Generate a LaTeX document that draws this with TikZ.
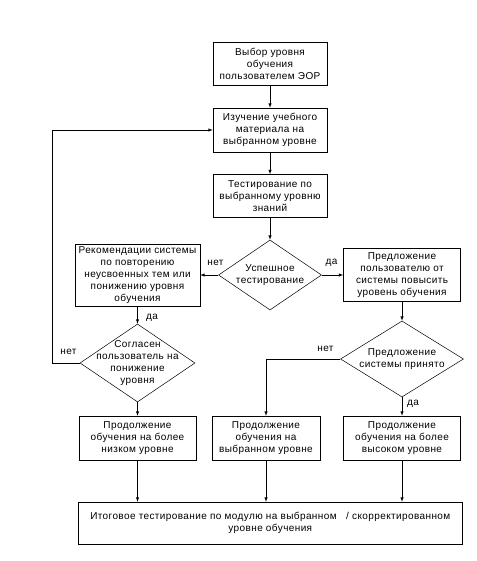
\documentclass[tikz,border=0pt]{standalone}
\usepackage{fontspec}
\setmainfont[LetterSpace=4]{Liberation Sans}
\usetikzlibrary{arrows,shapes.geometric}

\begin{document}
\begin{tikzpicture}[>=latex, x=1pt, y=-1pt, line width=0.5pt,
  box/.style={draw, align=center, inner sep=0pt, font=\fontsize{10}{12}\selectfont},
  decision/.style={draw, diamond, align=center, inner sep=-30pt, font=\fontsize{10}{12}\selectfont},
  answer/.style={font=\fontsize{10}{12}\selectfont, inner sep=0pt}]
\useasboundingbox (0,0) rectangle (476,561);
% Main column
\node [box, minimum width=114, minimum height=43] (choose) at (270,64) {Выбор уровня\\обучения\\пользователем ЭОР};
\node [box, minimum width=114, minimum height=44] (study) at (270,130) {Изучение учебного\\материала на\\выбранном уровне};
\node [box, minimum width=114, minimum height=43] (test) at (270,196) {Тестирование по\\выбранному уровню\\знаний};
\node [decision, minimum width=103, minimum height=70] (success) at (270,275) {Успешное\\тестирование};
% Left branch
\node [box, minimum width=125, minimum height=62] (recommend) at (137.5,275) {Рекомендации системы\\по повторению\\неусвоенных тем или\\понижению уровня\\обучения};
\node [decision, minimum width=115, minimum height=78] (agree) at (137.5,363) {Согласен\\пользователь на\\понижение\\уровня};
% Right branch
\node [box, minimum width=117, minimum height=53] (offer) at (402,275) {Предложение\\пользователю от\\системы повысить\\уровень обучения};
\node [decision, minimum width=123, minimum height=76] (accepted) at (402,359) {Предложение\\системы принято};
% Continuation row
\node [box, minimum width=117, minimum height=44] (lower) at (137.5,438) {Продолжение\\обучения на более\\низком уровне};
\node [box, minimum width=108, minimum height=44] (same) at (266,438) {Продолжение\\обучения на\\выбранном уровне};
\node [box, minimum width=117, minimum height=44] (higher) at (402,438) {Продолжение\\обучения на более\\высоком уровне};
% Final test
\node [box, minimum width=384, minimum height=42] (final) at (270.3,523) {Итоговое тестирование по модулю на выбранном\ \ \ / скорректированном\\уровне обучения};

% Answers
\node [answer] (no1) at (215.5,263) {нет};
\node [answer] (yes1) at (331.5,263) {да};
\node [answer] (yes2) at (152,318) {да};
\node [answer] (no2) at (68.5,352) {нет};
\node [answer] (no3) at (325.5,349) {нет};
\node [answer] (yes3) at (413,404) {да};

% Connectors
\draw [->] (choose) -- (study);
\draw [->] (study) -- (test);
\draw [->] (test) -- (success);
\draw [->] (success) -- (recommend);
\draw [->] (success) -- (offer);
\draw [->] (recommend) -- (agree);
\draw [->] (offer) -- (accepted);
\draw [->] (agree) -- (lower);
\draw [->] (accepted) -- (higher);
\coordinate (back) at (52.7,363);
\draw [->] (agree.west) -- (back) |- (study.west);
\draw [->] (accepted.west) -| (same.north);
\foreach \n in {lower, same, higher} {
  \draw [->] (\n) -- (\n |- final.north);
}
\end{tikzpicture}
\end{document}
